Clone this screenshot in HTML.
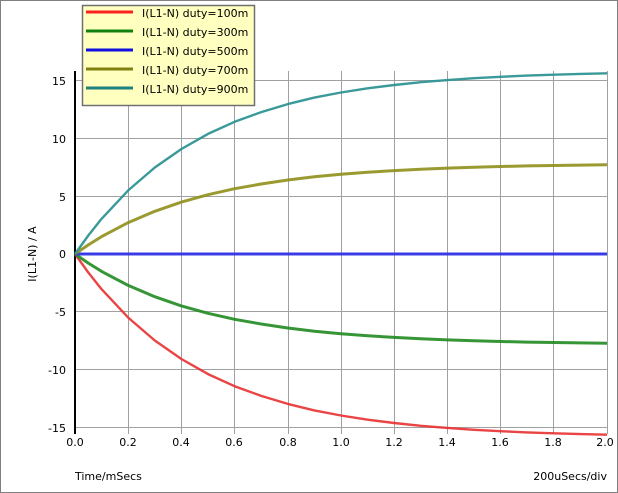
<!DOCTYPE html>
<html><head><meta charset="utf-8"><style>
html,body{margin:0;padding:0;background:#fff}
svg{display:block;font-family:"DejaVu Sans","Liberation Sans",sans-serif;font-size:11px}
</style></head><body>
<svg width="618" height="493" viewBox="0 0 618 493">
<rect x="0.5" y="0.5" width="617" height="492" fill="#fff" stroke="#808080"/>
<g stroke="#a0a0a0" stroke-width="1">
<line x1="128.5" y1="71" x2="128.5" y2="434"/>
<line x1="181.5" y1="71" x2="181.5" y2="434"/>
<line x1="234.5" y1="71" x2="234.5" y2="434"/>
<line x1="288.5" y1="71" x2="288.5" y2="434"/>
<line x1="341.5" y1="71" x2="341.5" y2="434"/>
<line x1="394.5" y1="71" x2="394.5" y2="434"/>
<line x1="447.5" y1="71" x2="447.5" y2="434"/>
<line x1="500.5" y1="71" x2="500.5" y2="434"/>
<line x1="553.5" y1="71" x2="553.5" y2="434"/>
<line x1="607.5" y1="71" x2="607.5" y2="434"/>
<line x1="75" y1="80.5" x2="607" y2="80.5"/>
<line x1="75" y1="138.5" x2="607" y2="138.5"/>
<line x1="75" y1="196.5" x2="607" y2="196.5"/>
<line x1="75" y1="253.5" x2="607" y2="253.5"/>
<line x1="75" y1="311.5" x2="607" y2="311.5"/>
<line x1="75" y1="369.5" x2="607" y2="369.5"/>
<line x1="75" y1="427.5" x2="607" y2="427.5"/>
</g>
<line x1="75" y1="71" x2="75" y2="434" stroke="#000" stroke-width="2"/>
<g fill="none" stroke-linejoin="round">
<g transform="translate(0,254)">
<polyline stroke="#e83030" stroke-width="2.4" opacity="0.9" points="75,0 88.3,18.5 101.6,35.2 128.2,63.6 154.8,86.5 181.4,105 208,120.1 234.6,132.2 261.2,141.9 287.8,149.9 314.4,156.4 341,161.5 367.6,165.7 394.2,169 420.8,171.8 447.4,173.9 474,175.8 500.6,177.2 527.2,178.4 553.8,179.3 580.4,180.1 607,180.7"/>
<polyline stroke="#208a20" stroke-width="3" opacity="0.9" points="75,0 88.3,9.1 101.6,17.4 128.2,31.4 154.8,42.7 181.4,51.9 208,59.3 234.6,65.3 261.2,70 287.8,74 314.4,77.2 341,79.7 367.6,81.8 394.2,83.4 420.8,84.8 447.4,85.9 474,86.8 500.6,87.5 527.2,88.1 553.8,88.5 580.4,88.9 607,89.2"/>
<polyline stroke="#2a2ae8" stroke-width="3" opacity="0.9" points="75,0 607,0"/>
<polyline stroke="#8f8f1a" stroke-width="3" opacity="0.9" points="75,0 88.3,-9.1 101.6,-17.4 128.2,-31.4 154.8,-42.7 181.4,-51.9 208,-59.3 234.6,-65.3 261.2,-70 287.8,-74 314.4,-77.2 341,-79.7 367.6,-81.8 394.2,-83.4 420.8,-84.8 447.4,-85.9 474,-86.8 500.6,-87.5 527.2,-88.1 553.8,-88.5 580.4,-88.9 607,-89.2"/>
<polyline stroke="#2f9494" stroke-width="2.4" opacity="0.95" points="75,0 88.3,-18.5 101.6,-35.2 128.2,-63.6 154.8,-86.5 181.4,-105 208,-120.1 234.6,-132.2 261.2,-141.9 287.8,-149.9 314.4,-156.4 341,-161.5 367.6,-165.7 394.2,-169 420.8,-171.8 447.4,-173.9 474,-175.8 500.6,-177.2 527.2,-178.4 553.8,-179.3 580.4,-180.1 607,-180.7"/>
</g>
</g>
<g fill="#000" text-anchor="end">
<text x="66" y="85">15</text>
<text x="66" y="143">10</text>
<text x="66" y="201">5</text>
<text x="66" y="258">0</text>
<text x="66" y="316">-5</text>
<text x="66" y="374">-10</text>
<text x="66" y="432">-15</text>
</g>
<g fill="#000" text-anchor="middle">
<text x="75" y="446">0.0</text>
<text x="128" y="446">0.2</text>
<text x="181" y="446">0.4</text>
<text x="234" y="446">0.6</text>
<text x="288" y="446">0.8</text>
<text x="341" y="446">1.0</text>
<text x="394" y="446">1.2</text>
<text x="447" y="446">1.4</text>
<text x="500" y="446">1.6</text>
<text x="553" y="446">1.8</text>
<text x="605" y="446">2.0</text>
</g>
<text x="75" y="480">Time/mSecs</text>
<text x="607" y="480" text-anchor="end">200uSecs/div</text>
<text transform="translate(36,254) rotate(-90)" text-anchor="middle">I(L1-N) / A</text>
<rect x="82.5" y="5.5" width="172" height="100" fill="#ffffc0" stroke="#707070" stroke-width="1.5"/>
<g stroke-width="3">
<line x1="86" y1="12" x2="133" y2="12" stroke="#ff2020"/>
<line x1="86" y1="31" x2="133" y2="31" stroke="#108010"/>
<line x1="86" y1="50" x2="133" y2="50" stroke="#1010e0"/>
<line x1="86" y1="69" x2="133" y2="69" stroke="#808010"/>
<line x1="86" y1="88" x2="133" y2="88" stroke="#208080"/>
</g>
<g fill="#000">
<text x="142" y="17">I(L1-N) duty=100m</text>
<text x="142" y="36">I(L1-N) duty=300m</text>
<text x="142" y="55">I(L1-N) duty=500m</text>
<text x="142" y="74">I(L1-N) duty=700m</text>
<text x="142" y="93">I(L1-N) duty=900m</text>
</g>
</svg>
</body></html>
